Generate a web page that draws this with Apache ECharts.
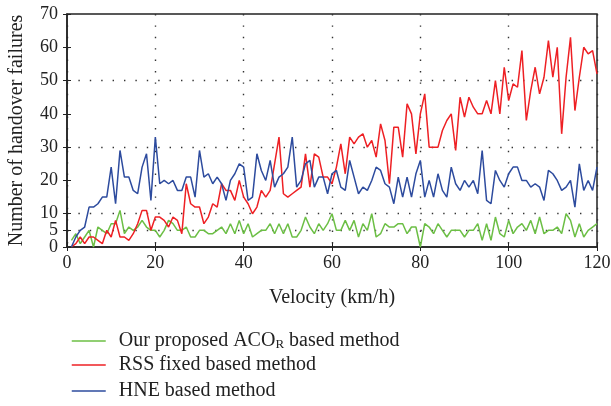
<!DOCTYPE html>
<html>
<head>
<meta charset="utf-8">
<script src="https://cdn.jsdelivr.net/npm/echarts@6/dist/echarts.min.js"></script>
<style>
  html, body { margin: 0; padding: 0; background: #fff; }
  #chart { width: 611px; height: 406px; }
</style>
</head>
<body>
<div id="chart"></div>
<script>
// velocity (km/h), one point per step
const velocity = Array.from({ length: 120 }, (_, i) => i + 1)

const acoR = [
  2, 4, 1, 3, 5, 0, 6, 5, 4, 7,
  7, 11, 4, 6, 5, 6, 8, 6, 5, 5,
  3, 5, 8, 7, 5, 5, 6, 3, 3, 5,
  5, 4, 4, 5, 6, 4, 7, 4, 8, 4,
  7, 3, 4, 5, 5, 7, 4, 7, 4, 7,
  3, 3, 5, 9, 6, 4, 7, 5, 7, 10,
  5, 5, 8, 5, 8, 3, 7, 5, 10, 3,
  4, 7, 6, 6, 7, 7, 4, 6, 6, 0,
  7, 6, 4, 7, 5, 3, 5, 5, 5, 3,
  5, 5, 7, 2, 7, 2, 9, 4, 3, 8,
  4, 6, 7, 5, 8, 4, 9, 4, 5, 5,
  6, 4, 10, 8, 3, 7, 3, 5, 6, 7
]

const rssFixed = [
  0, 1, 3, 1, 3, 3, 2, 1, 5, 3,
  8, 3, 3, 2, 4, 7, 11, 11, 5, 9,
  9, 8, 6, 9, 8, 4, 19, 13, 12, 12,
  7, 9, 13, 12, 19, 17, 17, 14, 20, 15,
  13, 10, 12, 17, 15, 17, 25, 33, 16, 15,
  16, 17, 18, 28, 18, 28, 27, 21, 21, 19,
  24, 31, 22, 33, 31, 33, 34, 30, 32, 27,
  37, 32, 19, 36, 36, 27, 43, 40, 28, 40,
  46, 30, 30, 30, 35, 38, 40, 29, 45, 39,
  45, 42, 40, 40, 44, 40, 50, 40, 54, 44,
  49, 48, 59, 38, 47, 54, 46, 51, 62, 51,
  60, 34, 51, 63, 41, 51, 60, 58, 59, 52
]

const hne = [
  0, 3, 5, 6, 12, 12, 13, 15, 15, 24,
  13, 29, 21, 21, 17, 16, 24, 28, 14, 33,
  19, 20, 19, 20, 17, 17, 21, 21, 15, 29,
  21, 22, 19, 21, 19, 14, 20, 22, 25, 24,
  14, 15, 28, 23, 20, 26, 18, 21, 22, 24,
  33, 18, 20, 25, 26, 18, 21, 21, 16, 22,
  23, 18, 17, 26, 21, 16, 18, 17, 20, 24,
  23, 19, 18, 13, 21, 15, 21, 15, 22, 26,
  15, 20, 15, 22, 17, 15, 24, 19, 17, 20,
  18, 20, 16, 29, 14, 13, 23, 20, 18, 22,
  24, 24, 20, 20, 18, 19, 18, 14, 23, 22,
  20, 17, 18, 20, 12, 25, 17, 20, 17, 24
]

const seriesNames = ['Our proposed ACOR based method', 'RSS fixed based method', 'HNE based method']
const seriesColors = ['#6cbf45', '#ee2024', '#2d4b9e']
const yTickLabels = [0, 5, 10, 20, 30, 40, 50, 60, 70]

const font = 'Liberation Serif'
const chart = echarts.init(document.getElementById('chart'))

const pairs = arr => arr.map((v, i) => [velocity[i], v])

// dotted split lines only at 5, 10, 20 ... 60 (ticks every 5, min/max lines off)
const dot = '#333'
const gridColors = [dot, dot, 'transparent', dot, 'transparent', dot, 'transparent',
  dot, 'transparent', dot, 'transparent', dot, 'transparent']

const lineSeries = (name, data, color) => ({
  name,
  type: 'line',
  data: pairs(data),
  symbol: 'none',
  lineStyle: { color, width: 1.5 },
  itemStyle: { color },
  animation: false
})

// one legend per row so the rows sit exactly where they should
const legendRow = (i, top) => ({
  orient: 'vertical',
  left: 71,
  top,
  padding: 0,
  itemWidth: 34,
  itemHeight: 14,
  itemStyle: { opacity: 0 },
  lineStyle: { width: 1.5 },
  data: [seriesNames[i]],
  formatter: name => name === seriesNames[0]
    ? '{t|Our proposed ACO}{s|R}{t| based method}'
    : '{t|' + name + '}',
  textStyle: {
    color: '#222',
    fontFamily: font,
    fontSize: 20,
    padding: [0, 0, 0, 8],
    rich: {
      t: { fontFamily: font, fontSize: 20, color: '#222', lineHeight: 20 },
      s: { fontFamily: font, fontSize: 13, color: '#222', lineHeight: 20, verticalAlign: 'bottom', padding: [8, 0, 0, 0] }
    }
  }
})

const yLabelStyle = { fontFamily: font, fontSize: 18, color: '#222', margin: 9 }

const option = {
  animation: false,
  grid: {
    left: 67, right: 14, top: 14, bottom: 159,
    outerBoundsMode: 'none', containLabel: false,
    show: true, borderColor: '#222', borderWidth: 1.5
  },
  legend: [legendRow(0, 330), legendRow(1, 355), legendRow(2, 381)],
  xAxis: [{
    type: 'value',
    min: 0,
    max: 120,
    interval: 20,
    name: 'Velocity (km/h)',
    nameLocation: 'middle',
    nameGap: 41,
    nameTextStyle: { fontFamily: font, fontSize: 20, color: '#222' },
    axisLine: { lineStyle: { color: '#222', width: 1.5 } },
    axisTick: { inside: true, length: 4, lineStyle: { color: '#222' } },
    axisLabel: { fontFamily: font, fontSize: 18, color: '#222', margin: 7, showMinLabel: true, showMaxLabel: true },
    splitLine: { show: true, lineStyle: { color: dot, width: 1.4, type: [1.4, 10] } }
  }, {
    type: 'value',
    position: 'top',
    min: 0,
    max: 120,
    interval: 20,
    axisLine: { show: false },
    axisTick: { inside: true, length: 4, lineStyle: { color: '#222' } },
    axisLabel: { show: false },
    splitLine: { show: false }
  }],
  yAxis: [{
    type: 'value',
    min: 0,
    max: 70,
    interval: 5,
    name: 'Number of handover failures',
    nameLocation: 'middle',
    nameGap: 40,
    nameTextStyle: { fontFamily: font, fontSize: 20, color: '#222' },
    axisLine: { show: true, lineStyle: { color: '#222', width: 1.5 } },
    axisTick: { inside: true, length: 4, lineStyle: { color: '#222' }, customValues: yTickLabels },
    axisLabel: {
      ...yLabelStyle,
      showMinLabel: true, showMaxLabel: true,
      // the "5" label sits on its own axis below so it is not dropped for overlapping "0"
      formatter: v => (v !== 5 && yTickLabels.includes(v)) ? String(v) : ''
    },
    splitLine: {
      show: true,
      showMinLine: false,
      showMaxLine: false,
      lineStyle: { color: gridColors, width: 1.4, type: [1.4, 10] }
    }
  }, {
    type: 'value',
    position: 'right',
    min: 0,
    max: 70,
    interval: 5,
    axisLine: { show: false },
    axisTick: { show: true, inside: true, length: 4, lineStyle: { color: '#222' }, customValues: yTickLabels },
    axisLabel: { show: false },
    splitLine: { show: false }
  }, {
    type: 'value',
    position: 'left',
    min: 0,
    max: 70,
    interval: 5,
    axisLine: { show: false },
    axisTick: { show: false },
    axisLabel: {
      ...yLabelStyle,
      showMinLabel: false,
      formatter: v => v === 5 ? '5' : ''
    },
    splitLine: { show: false }
  }],
  series: seriesNames.map((n, i) => lineSeries(n, [acoR, rssFixed, hne][i], seriesColors[i]))
}

chart.setOption(option)
</script>
</body>
</html>
